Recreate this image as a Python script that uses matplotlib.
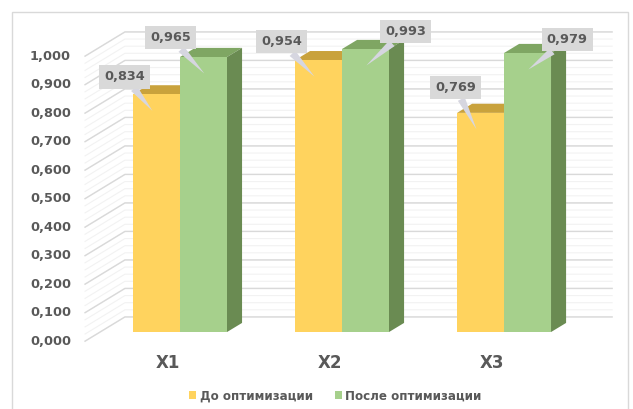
import matplotlib.pyplot as plt
from matplotlib.patches import Polygon, Rectangle

# Chart data
categories = ["X1", "X2", "X3"]
before = [0.834, 0.954, 0.769]
after = [0.965, 0.993, 0.979]
series_names = ["До оптимизации", "После оптимизации"]
y_ticks = [0.0, 0.1, 0.2, 0.3, 0.4, 0.5, 0.6, 0.7, 0.8, 0.9, 1.0]

# Colours: front, top, side
yellow = ("#FFD35E", "#C9A23C", "#B8912E")
green = ("#A6D08C", "#7FA663", "#6A8B52")
text_col = "#595959"
grid_col = "#d9d9d9"

# 3D look: bar depth and wall offsets, in data units
bar_w = 0.29
depth_x, depth_y = 0.093, 0.032
wall_x0, wall_x1 = -0.340, 2.667
wall_dy = 0.053
side_x0, side_dy = -0.586, -0.032

fig = plt.figure(figsize=(6.33, 4.09), dpi=100)
ax = fig.add_axes([0, 0, 1, 1])
ax.set_xlim(-1.111, 2.796)
ax.set_ylim(-0.270, 1.165)
ax.axis("off")

# outer chart frame
fig.add_artist(Rectangle((12 / 633, -0.05), 616 / 633, (409 - 12) / 409 + 0.05,
                         transform=fig.transFigure, fill=False, ec=grid_col, lw=1))

# faint minor lines on walls
minor = [i * 0.025 for i in range(41)]
for v in minor:
    ax.plot([side_x0, wall_x0, wall_x1], [v + side_dy, v + wall_dy, v + wall_dy],
            color="#f2f2f2", lw=0.8, zorder=1)
# major gridlines: side wall diagonal + back wall
for v in y_ticks:
    ax.plot([side_x0, wall_x0, wall_x1], [v + side_dy, v + wall_dy, v + wall_dy],
            color=grid_col, lw=1, zorder=1.5)
    ax.text(-0.673, v + side_dy, f"{v:.3f}".replace(".", ","), ha="right", va="center",
            fontsize=9.3, fontweight="bold", color=text_col)


def draw_bar(x0, h, cols):
    front, top, side = cols
    ax.add_patch(Polygon([(x0, h), (x0 + bar_w, h), (x0 + bar_w + depth_x, h + depth_y),
                          (x0 + depth_x, h + depth_y)], closed=True, fc=top, ec="none", zorder=3))
    ax.add_patch(Polygon([(x0 + bar_w, 0), (x0 + bar_w + depth_x, depth_y),
                          (x0 + bar_w + depth_x, h + depth_y), (x0 + bar_w, h)],
                         closed=True, fc=side, ec="none", zorder=3))


xs = range(len(categories))
for i in xs:
    draw_bar(i - bar_w, before[i], yellow)
ax.bar([i - bar_w / 2 for i in xs], before, width=bar_w, color=yellow[0], zorder=3.5,
       label=series_names[0])
for i in xs:
    draw_bar(i, after[i], green)
ax.bar([i + bar_w / 2 for i in xs], after, width=bar_w, color=green[0], zorder=4,
       label=series_names[1])

# category labels
for i, name in enumerate(categories):
    ax.text(i - 0.074, -0.109, name, ha="center", va="center", fontsize=12,
            fontweight="bold", color=text_col)

# callout data labels (tip inside bar, box offset in pixels)
before_offsets = [(-28, 34), (-33, 35), (-21, 42)]
after_offsets = [(-34, 36), (39, 34), (39, 30)]


def callout(x, v, off):
    ax.annotate(f"{v:.3f}".replace(".", ","), xy=(x, v - 0.058), xytext=off,
                textcoords="offset pixels", ha="center", va="center",
                fontsize=9.3, fontweight="bold", color=text_col, zorder=6,
                bbox=dict(boxstyle="square,pad=0.4", fc="#d9d9d9", ec="none"),
                arrowprops=dict(arrowstyle="wedge,tail_width=0.6", fc="#d6d6e0",
                                ec="none", shrinkA=0, shrinkB=0))


for i in xs:
    callout(i - 0.17, before[i], before_offsets[i])
    callout(i + 0.15, after[i], after_offsets[i])

leg = ax.legend(loc="center", bbox_to_anchor=(0.53, 0.032), ncol=2, frameon=False,
                handlelength=0.6, handleheight=0.6, handletextpad=0.3, columnspacing=1.8,
                prop={"size": 8.6, "weight": "bold"})
for t in leg.get_texts():
    t.set_color(text_col)

fig.savefig("out.png", dpi=100)
